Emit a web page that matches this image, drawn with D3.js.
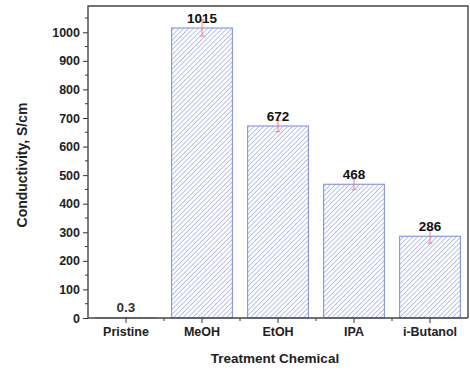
<!DOCTYPE html>
<html>
<head>
<meta charset="utf-8">
<script src="https://cdn.jsdelivr.net/npm/d3@7"></script>
<style>
  html, body { margin: 0; padding: 0; background: #fff; }
  svg { display: block; }
  text { font-family: "Liberation Sans", Arial, sans-serif; font-weight: bold; }
</style>
</head>
<body>
<svg id="chart" width="470" height="371"></svg>
<script>
// Conductivity after solvent treatment
const categories = ["Pristine", "MeOH", "EtOH", "IPA", "i-Butanol"];
const conductivity = [0.3, 1015, 672, 468, 286];
const errors = [2, 28, 20, 19, 24];
const valueLabels = ["0.3", "1015", "672", "468", "286"];
const yTicks = [0, 100, 200, 300, 400, 500, 600, 700, 800, 900, 1000];

const svg = d3.select("#chart");
const margin = { left: 88, right: 2, top: 6, bottom: 53 };
const W = 470, H = 371;

const x = d3.scaleBand()
  .domain(categories)
  .range([margin.left, W - margin.right])
  .paddingInner(0.2)
  .paddingOuter(0.1);

const y = d3.scaleLinear()
  .domain([0, 1092])
  .range([H - margin.bottom, margin.top]);

// hatch pattern for the bars
const defs = svg.append("defs");
const hs = 3.4;
const pat = defs.append("pattern")
  .attr("id", "hatch")
  .attr("patternUnits", "userSpaceOnUse")
  .attr("width", hs)
  .attr("height", hs)
  .attr("patternTransform", "rotate(45)");
pat.append("rect").attr("width", hs).attr("height", hs).attr("fill", "#fff");
pat.append("line")
  .attr("x1", 0).attr("y1", 0).attr("x2", 0).attr("y2", hs)
  .attr("stroke", "#7786d2").attr("stroke-width", 1);

// bars
svg.append("g").selectAll("rect")
  .data(categories)
  .join("rect")
  .attr("x", d => x(d))
  .attr("width", x.bandwidth())
  .attr("y", (d, i) => y(conductivity[i]))
  .attr("height", (d, i) => y(0) - y(conductivity[i]))
  .attr("fill", "url(#hatch)")
  .attr("stroke", "#8e99dc")
  .attr("stroke-width", 1.2);

// error bars
const eg = svg.append("g").attr("stroke", "#ec7f8c").attr("stroke-width", 1).attr("fill", "none");
categories.forEach((c, i) => {
  const cx = x(c) + x.bandwidth() / 2;
  const lo = Math.max(0, conductivity[i] - errors[i]);
  const hi = conductivity[i] + errors[i];
  eg.append("line").attr("x1", cx).attr("x2", cx).attr("y1", y(lo)).attr("y2", y(hi));
  eg.append("line").attr("x1", cx - 2.5).attr("x2", cx + 2.5).attr("y1", y(hi)).attr("y2", y(hi));
  if (conductivity[i] - errors[i] > 0) {
    eg.append("line").attr("x1", cx - 2.5).attr("x2", cx + 2.5).attr("y1", y(lo)).attr("y2", y(lo));
  }
});

// value labels
svg.append("g").selectAll("text")
  .data(categories)
  .join("text")
  .attr("x", d => x(d) + x.bandwidth() / 2)
  .attr("y", (d, i) => y(conductivity[i]) - (i === 0 ? 6 : 5.5))
  .attr("text-anchor", "middle")
  .attr("font-size", 13.5)
  .attr("fill", (d, i) => i === 0 ? "#333" : "#111")
  .text((d, i) => valueLabels[i]);

// y axis with minor ticks
const yAxis = svg.append("g").attr("transform", `translate(${margin.left},0)`);
yAxis.call(d3.axisLeft(y).tickValues(yTicks).tickFormat(d3.format("d")).tickSize(5).tickPadding(3));
yAxis.selectAll("text").attr("font-size", 12.5).attr("fill", "#222");
yAxis.select(".domain").remove();
const yMinor = d3.range(50, 1091, 100);
yAxis.append("g").selectAll("line")
  .data(yMinor).join("line")
  .attr("x1", -3).attr("x2", 0)
  .attr("y1", d => y(d)).attr("y2", d => y(d))
  .attr("stroke", "#333");
yAxis.selectAll(".tick line").attr("stroke", "#333");

// x axis with ticks at centres and minor ticks at boundaries
const xAxis = svg.append("g").attr("transform", `translate(0,${y(0)})`);
xAxis.call(d3.axisBottom(x).tickSize(5).tickPadding(4));
xAxis.select(".domain").remove();
xAxis.selectAll("text").attr("font-size", 12.5).attr("fill", "#222");
xAxis.selectAll(".tick line").attr("stroke", "#333");
const step = x.step();
const bounds = d3.range(1, categories.length).map(i => margin.left + i * step);
xAxis.append("g").selectAll("line")
  .data(bounds).join("line")
  .attr("x1", d => d).attr("x2", d => d)
  .attr("y1", 0).attr("y2", 3)
  .attr("stroke", "#333");

// frame
const x0 = margin.left, x1 = W - margin.right, y0 = margin.top, y1 = y(0);
svg.append("path")
  .attr("d", `M${x0},${y1}V${y0}H${x1}V${y1}`)
  .attr("fill", "none").attr("stroke", "#444").attr("stroke-width", 1.4);
svg.append("line")
  .attr("x1", x0).attr("x2", x1).attr("y1", y1).attr("y2", y1)
  .attr("stroke", "#444").attr("stroke-width", 1.4);

// axis titles
svg.append("text")
  .attr("x", (x0 + x1) / 2 - 3)
  .attr("y", 363)
  .attr("text-anchor", "middle")
  .attr("font-size", 13.5)
  .attr("fill", "#222")
  .text("Treatment Chemical");

svg.append("text")
  .attr("transform", `translate(27,165) rotate(-90)`)
  .attr("text-anchor", "middle")
  .attr("font-size", 14)
  .attr("fill", "#222")
  .text("Conductivity, S/cm");
</script>
</body>
</html>
